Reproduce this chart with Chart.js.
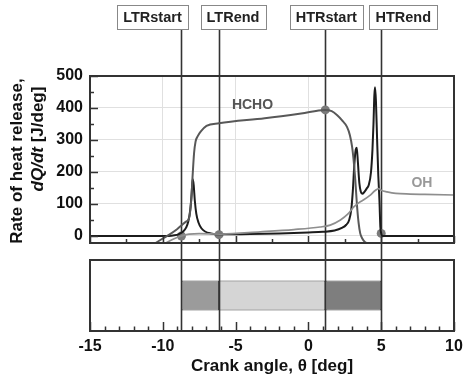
<!DOCTYPE html>
<html><head><meta charset="utf-8">
<script src="https://cdn.jsdelivr.net/npm/chart.js@4.4.1/dist/chart.umd.min.js"></script>
<style>
html,body{margin:0;padding:0;background:#fff;}
#wrap{position:relative;width:468px;height:378px;overflow:hidden;background:#fff;}
#top{position:absolute;left:0;top:0;}
#bot{position:absolute;left:0;top:250px;}
</style></head><body>
<div id="wrap"><canvas id="top" width="468" height="250"></canvas><canvas id="bot" width="468" height="128"></canvas></div>
<script>
// ---- data ----
const thetaTotal = [-15, -9.6, -9.2, -8.9, -8.6, -8.4, -8.25, -8.12, -8.02, -7.95, -7.88, -7.8, -7.7, -7.55, -7.35, -7.1, -6.7, -6.14, -4, -2, 0, 1, 1.8, 2.3, 2.6, 2.8, 2.95, 3.05, 3.15, 3.25, 3.32, 3.4, 3.5, 3.6, 3.7, 3.85, 4.0, 4.15, 4.3, 4.4, 4.47, 4.53, 4.58, 4.64, 4.72, 4.8, 4.88, 4.94, 5.0, 5.08, 10];
const hrrTotal   = [0, 0, 2, 6, 14, 26, 45, 80, 130, 178, 160, 110, 70, 42, 24, 14, 8, 5, 6, 8, 11, 13, 17, 25, 35, 50, 85, 140, 220, 270, 276, 230, 165, 138, 132, 138, 148, 160, 200, 270, 350, 440, 465, 420, 300, 190, 110, 30, 8, 0, 0];
const thetaHCHO = [-10.5, -10, -9.5, -9, -8.72, -8.4, -8.2, -8.05, -7.95, -7.85, -7.75, -7.6, -7.4, -7.0, -6.14, -3, -0.5, 1.16, 1.6, 1.96, 2.3, 2.65, 2.85, 3.0, 3.12, 3.22, 3.33, 3.45, 3.56, 3.7, 3.9, 4.2];
const hrrHCHO   = [-22, -8, 6, 22, 33, 45, 55, 110, 190, 260, 295, 312, 326, 344, 352, 368, 383, 394, 390, 378, 362, 341, 315, 279, 230, 175, 100, 40, 8, -8, -20, -24];
const thetaOH = [-9.8, -9.3, -8.72, -8.2, -7.5, -6, -3.3, -1, 0.8, 1.5, 2.2, 2.7, 3.1, 3.5, 3.8, 4.2, 4.59, 4.82, 5.0, 5.4, 6.0, 7, 8, 10];
const hrrOH   = [-22, -10, 0, 6, 7, 6, 13, 20, 28, 34, 50, 68, 90, 105, 113, 126, 142, 148, 143, 138, 133, 131, 130, 128];
const eventNames = ['LTRstart', 'LTRend', 'HTRstart', 'HTRend'];
const eventTheta = [-8.72, -6.14, 1.16, 5.0];
const eventHRR   = [0, 4, 394, 8];
const phaseStart = [-8.72, -6.14, 1.16];
const phaseEnd   = [-6.14, 1.16, 5.0];
const xTickValues = [-15, -10, -5, 0, 5, 10];
const yTickValues = [0, 100, 200, 300, 400, 500];
const curveLabels = ['HCHO', 'OH'];
const curveLabelTheta = [-3.84, 7.8];
const curveLabelHRR = [409, 166];

// ---- styles ----
const FONT = "'Liberation Sans', Arial, sans-serif";
const phaseColors = ['#9b9b9b', '#d5d5d5', '#7e7e7e'];
const labelBoxDx = [-29, 14, 1, 22];   // box centre offset from its line (layout)
const pts = (xs, ys) => xs.map((x, i) => ({x: x, y: ys[i]}));

const topPlugin = {
  id: 'topDeco',
  beforeDatasetsDraw(chart) {
    const ctx = chart.ctx, xs = chart.scales.x;
    ctx.save();
    ctx.strokeStyle = '#333'; ctx.lineWidth = 1.6;
    eventTheta.forEach(t => {
      const px = Math.round(xs.getPixelForValue(t)) + 0.5;
      ctx.beginPath(); ctx.moveTo(px, 29); ctx.lineTo(px, chart.height); ctx.stroke();
    });
    ctx.restore();
  },
  afterDraw(chart) {
    const ctx = chart.ctx, a = chart.chartArea, xs = chart.scales.x, ys = chart.scales.y;
    ctx.save();
    // frame
    ctx.strokeStyle = '#333'; ctx.lineWidth = 2;
    ctx.strokeRect(a.left, a.top, a.right - a.left, a.bottom - a.top);
    // x ticks (inward)
    ctx.lineWidth = 1.5;
    for (let v = -15; v <= 10.001; v += 2.5) {
      const px = Math.round(xs.getPixelForValue(v)) + 0.5;
      const len = (Math.abs(v % 5) < 1e-6) ? 7 : 4;
      ctx.beginPath(); ctx.moveTo(px, a.bottom); ctx.lineTo(px, a.bottom - len); ctx.stroke();
    }
    for (let v = 0; v <= 500; v += 50) {
      const py = Math.round(ys.getPixelForValue(v)) + 0.5;
      const len = (v % 100 === 0) ? 8 : 4;
      ctx.beginPath(); ctx.moveTo(a.left, py); ctx.lineTo(a.left + len, py); ctx.stroke();
    }
    // event label boxes
    ctx.font = 'bold 14.5px ' + FONT;
    ctx.textAlign = 'center'; ctx.textBaseline = 'middle';
    eventTheta.forEach((t, i) => {
      const px = xs.getPixelForValue(t);
      const w = ctx.measureText(eventNames[i]).width + 12;
      const cx = px + labelBoxDx[i];
      ctx.fillStyle = '#fff'; ctx.fillRect(cx - w / 2, 5, w, 24);
      ctx.strokeStyle = '#888'; ctx.lineWidth = 1;
      ctx.strokeRect(Math.round(cx - w / 2) + 0.5, 5.5, Math.round(w), 24);
      ctx.fillStyle = '#222';
      ctx.fillText(eventNames[i], cx, 18);
    });
    // curve labels
    ctx.font = 'bold 14px ' + FONT;
    curveLabels.forEach((s, i) => {
      ctx.fillStyle = i === 0 ? '#555' : '#999';
      ctx.fillText(s, xs.getPixelForValue(curveLabelTheta[i]), ys.getPixelForValue(curveLabelHRR[i]));
    });
    // y title
    ctx.fillStyle = '#111';
    ctx.save();
    ctx.translate(17, 161); ctx.rotate(-Math.PI / 2);
    ctx.font = 'bold 17px ' + FONT;
    ctx.fillText('Rate of heat release,', 0, 0);
    ctx.restore();
    ctx.save();
    ctx.translate(38, 139); ctx.rotate(-Math.PI / 2);
    ctx.textAlign = 'left';
    ctx.font = 'italic bold 17px ' + FONT;
    const p1 = 'dQ/dt', p2 = ' [J/deg]';
    const w1 = ctx.measureText(p1).width;
    ctx.font = 'bold 17px ' + FONT;
    const w2 = ctx.measureText(p2).width;
    const sx = -(w1 + w2) / 2;
    ctx.font = 'italic bold 17px ' + FONT;
    ctx.fillText(p1, sx, 0);
    ctx.font = 'bold 17px ' + FONT;
    ctx.fillText(p2, sx + w1, 0);
    ctx.restore();
    ctx.restore();
  }
};

new Chart(document.getElementById('top'), {
  type: 'line',
  data: {
    datasets: [
      {label: 'OH', data: pts(thetaOH, hrrOH), borderColor: '#8e8e8e', borderWidth: 1.7},
      {label: 'HCHO', data: pts(thetaHCHO, hrrHCHO), borderColor: '#585858', borderWidth: 2},
      {label: 'Total', data: pts(thetaTotal, hrrTotal), borderColor: '#1c1c1c', borderWidth: 2},
      {label: 'Events', type: 'scatter', data: pts(eventTheta, eventHRR), showLine: false,
       pointRadius: 4.5, pointBackgroundColor: '#7a7a7a', pointBorderColor: '#7a7a7a', pointBorderWidth: 0}
    ]
  },
  options: {
    responsive: false, animation: false,
    layout: {padding: {top: 76, right: 14, bottom: 7, left: 0}},
    elements: {line: {cubicInterpolationMode: 'monotone', fill: false}, point: {radius: 0}},
    plugins: {legend: {display: false}, tooltip: {enabled: false}},
    scales: {
      x: {type: 'linear', min: -15, max: 10,
          ticks: {display: false, stepSize: 5},
          afterBuildTicks: s => { s.ticks = xTickValues.map(v => ({value: v})); },
          grid: {color: '#e0e0e0', drawTicks: false, lineWidth: 1},
          border: {display: false},
          afterFit: s => { s.height = 0; s.paddingLeft = 0; s.paddingRight = 0; }},
      y: {type: 'linear', min: -22, max: 500,
          afterBuildTicks: s => { s.ticks = yTickValues.map(v => ({value: v})); },
          ticks: {font: {family: FONT, size: 16, weight: 'bold'}, color: '#111', padding: 7},
          grid: {color: '#e0e0e0', drawTicks: false, lineWidth: 1},
          border: {display: false},
          afterFit: s => { s.width = 90; s.paddingTop = 0; s.paddingBottom = 0; }}
    }
  },
  plugins: [topPlugin]
});

const botPlugin = {
  id: 'botDeco',
  afterDraw(chart) {
    const ctx = chart.ctx, a = chart.chartArea, xs = chart.scales.x;
    ctx.save();
    ctx.strokeStyle = '#333'; ctx.lineWidth = 1.6;
    eventTheta.forEach(t => {
      const px = Math.round(xs.getPixelForValue(t)) + 0.5;
      ctx.beginPath(); ctx.moveTo(px, 0); ctx.lineTo(px, a.bottom); ctx.stroke();
    });
    ctx.lineWidth = 2;
    ctx.strokeRect(a.left, a.top, a.right - a.left, a.bottom - a.top);
    ctx.lineWidth = 1.5;
    for (let v = -15; v <= 10; v += 1) {
      const px = Math.round(xs.getPixelForValue(v)) + 0.5;
      const len = (v % 5 === 0) ? 9 : 4.5;
      ctx.beginPath(); ctx.moveTo(px, a.bottom); ctx.lineTo(px, a.bottom - len); ctx.stroke();
    }
    ctx.restore();
  }
};

new Chart(document.getElementById('bot'), {
  type: 'bar',
  data: {
    labels: ['phase'],
    datasets: phaseStart.map((s, i) => ({
      label: 'p' + i, data: [[s, phaseEnd[i]]],
      backgroundColor: phaseColors[i], borderColor: '#4a4a4a', borderWidth: 1,
      borderSkipped: false, grouped: false, barPercentage: 0.42, categoryPercentage: 1
    }))
  },
  options: {
    indexAxis: 'y', responsive: false, animation: false,
    layout: {padding: {top: 10, right: 14, bottom: 0, left: 90}},
    plugins: {legend: {display: false}, tooltip: {enabled: false}},
    scales: {
      x: {type: 'linear', min: -15, max: 10,
          afterBuildTicks: s => { s.ticks = xTickValues.map(v => ({value: v})); },
          ticks: {font: {family: FONT, size: 16, weight: 'bold'}, color: '#111', padding: 6},
          grid: {display: false, drawTicks: false},
          border: {display: false},
          title: {display: true, text: 'Crank angle, θ [deg]', color: '#111',
                  font: {family: FONT, size: 17, weight: 'bold'}, padding: {top: 0, bottom: 1}},
          afterFit: s => { s.height = 47; s.paddingLeft = 0; s.paddingRight = 0; }},
      y: {type: 'category', display: false}
    }
  },
  plugins: [botPlugin]
});
</script>
</body></html>
